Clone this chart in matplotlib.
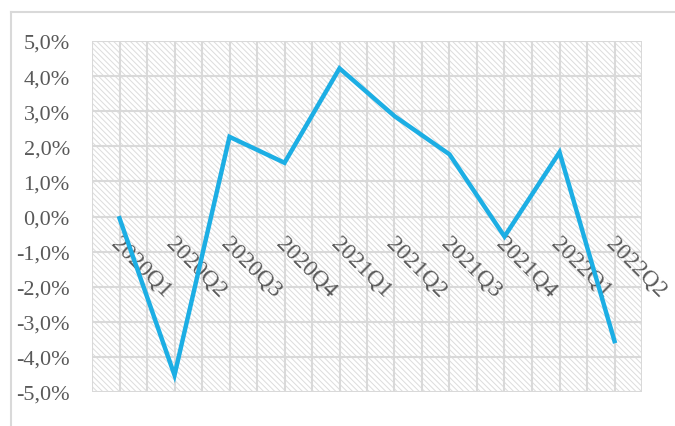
import matplotlib
matplotlib.use('Agg')

import matplotlib.pyplot as plt
from matplotlib.patches import Rectangle
from matplotlib.lines import Line2D
from matplotlib.ticker import FuncFormatter, MultipleLocator
import numpy as np

# Quartale und Werte (in %)
quarters = ['2020Q1', '2020Q2', '2020Q3', '2020Q4', '2021Q1',
            '2021Q2', '2021Q3', '2021Q4', '2022Q1', '2022Q2']
values = [-0.05, -4.52, 2.27, 1.53, 4.22, 2.86, 1.77, -0.57, 1.83, -3.55]

grid_col = '#d9d9d9'
text_col = '#595959'
line_col = '#1caee4'

plt.rcParams['font.family'] = ['Liberation Serif', 'DejaVu Serif']
plt.rcParams['hatch.linewidth'] = 0.7
plt.rcParams['hatch.color'] = '#dcdcdc'

fig = plt.figure(figsize=(6.75, 4.27), dpi=100)
ax = fig.add_axes([92 / 675, 34 / 427, 550 / 675, 351 / 427])

x = np.arange(len(quarters))
ax.set_xlim(-0.5, len(quarters) - 0.5)
ax.set_ylim(-5, 5)

# schraffierter Hintergrund
ax.add_patch(Rectangle((0, 0), 1, 1, transform=ax.transAxes, facecolor='white',
                       edgecolor='#dcdcdc', hatch='\\' * 6, linewidth=0, zorder=0))

# Gitterlinien
for yv in range(-5, 6):
    ax.axhline(yv, color=grid_col, lw=1.5, zorder=1)
for xv in np.arange(-0.5, len(quarters), 0.5):
    ax.axvline(xv, color=grid_col, lw=1.5, zorder=1)

ax.plot(x, values, color=line_col, lw=3.2, solid_joinstyle='miter', zorder=3)

ax.yaxis.set_major_locator(MultipleLocator(1))
ax.yaxis.set_major_formatter(FuncFormatter(lambda v, p: f'{v:.1f}%'.replace('.', ',')))
ax.tick_params(axis='y', length=0, pad=16, labelsize=16, labelcolor=text_col)
ax.set_xticks([])
for s in ax.spines.values():
    s.set_visible(False)

# Achsenbeschriftung der Quartale (gedreht, an der 0-Linie)
for i, q in enumerate(quarters):
    ax.annotate(q, xy=(i, 0), xytext=(2, -11), textcoords='offset points',
                rotation=-45, rotation_mode='anchor', ha='left', va='top',
                fontsize=17, color=text_col, zorder=2)

# Rahmen
fig.add_artist(Line2D([10.5 / 675, 10.5 / 675], [0, 1 - 13 / 427], color=grid_col, lw=1.5))
fig.add_artist(Line2D([10.5 / 675, 1], [1 - 13 / 427, 1 - 13 / 427], color=grid_col, lw=1.5))

fig.savefig('out.png', dpi=100)
